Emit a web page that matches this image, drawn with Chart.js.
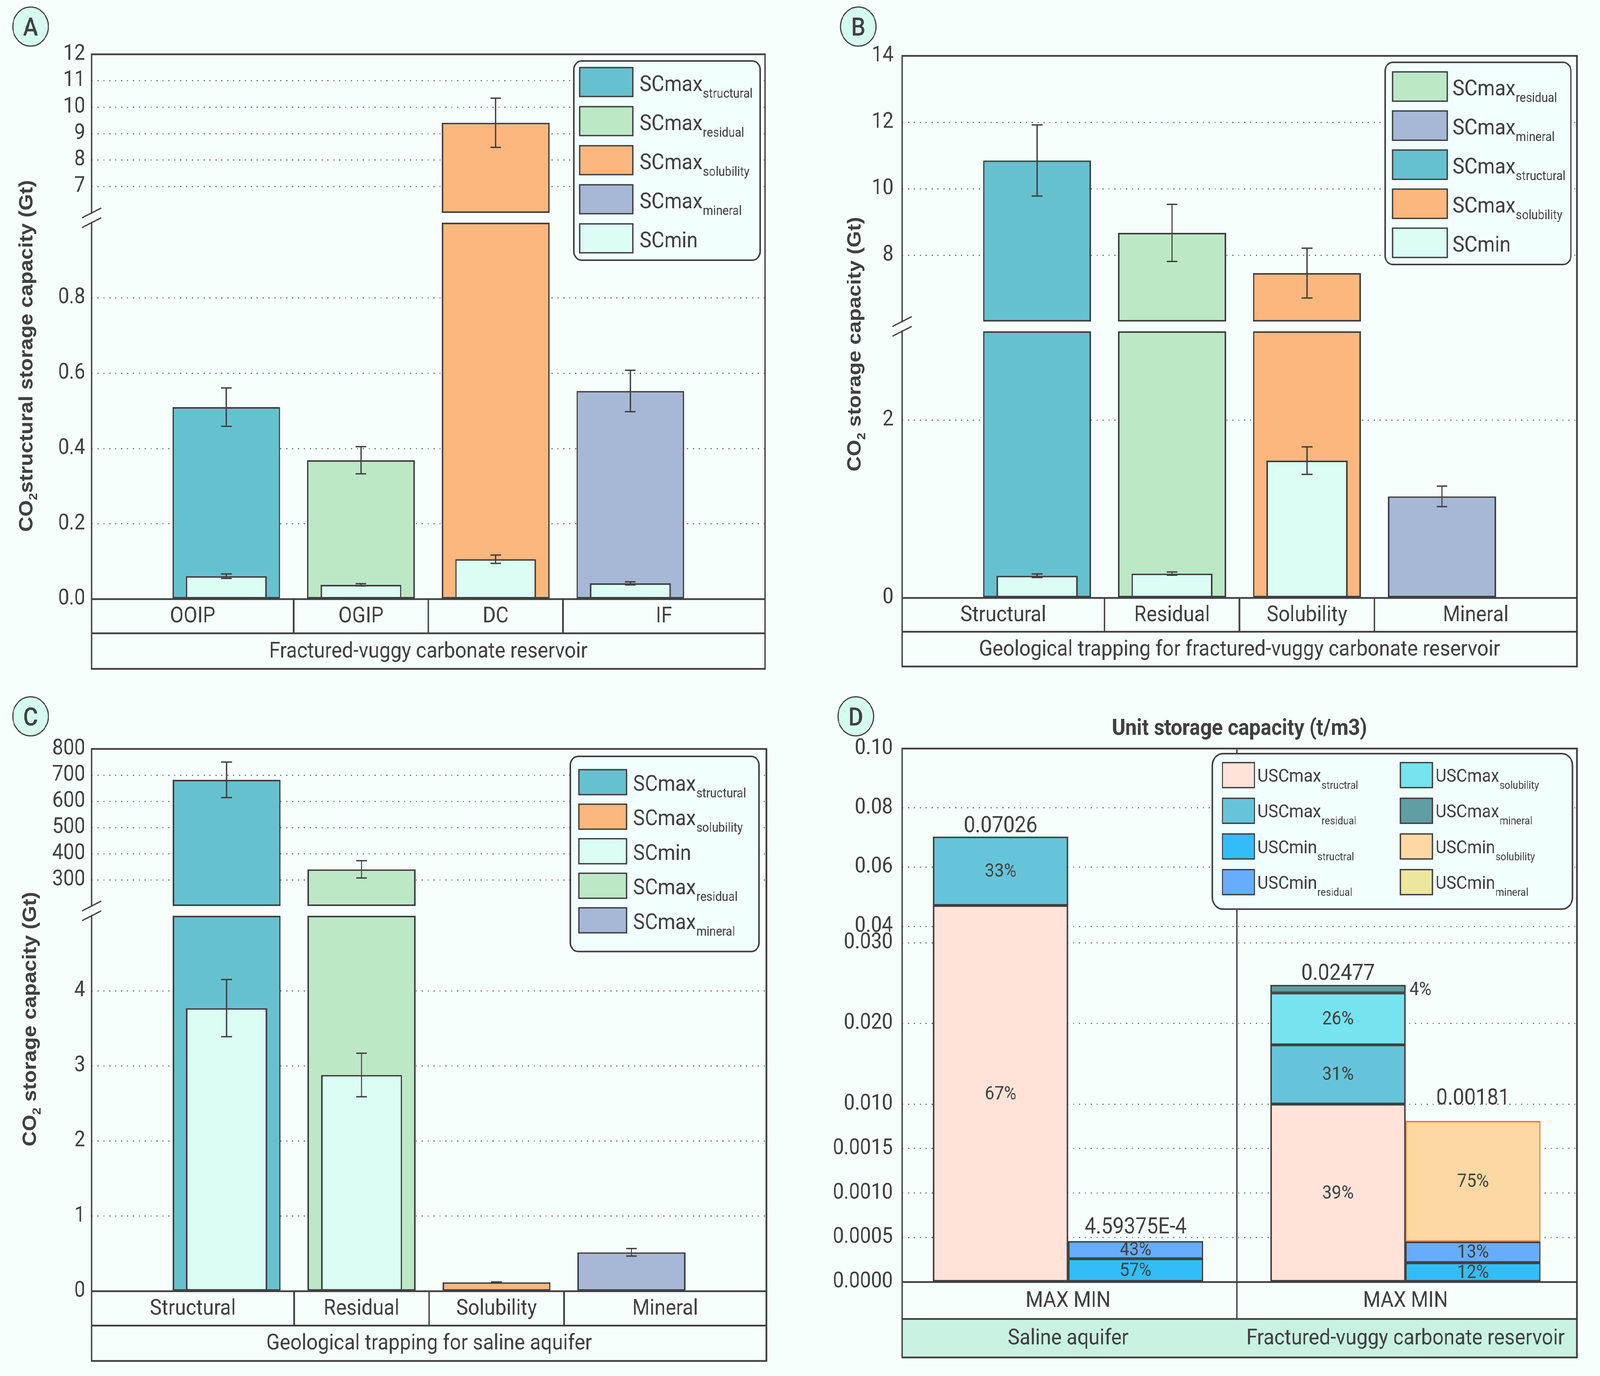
<!DOCTYPE html>
<html>
<head>
<meta charset="utf-8">
<title>CO2 storage capacity</title>
<script src="https://cdn.jsdelivr.net/npm/chart.js@4.4.1/dist/chart.umd.min.js"></script>
<style>
  html, body { margin:0; padding:0; background:#f6fffc; overflow:hidden; }
  body { position:relative; width:4505px; height:3522px; }
  #wrap { position:absolute; left:0; top:0; width:4505px; height:3522px; transform-origin:0 0; }
  canvas { position:absolute; display:block; }
</style>
</head>
<body>
<div id="wrap">
<canvas id="cA" width="2252" height="1761" style="left:0px;top:0px"></canvas>
<canvas id="cB" width="2253" height="1761" style="left:2252px;top:0px"></canvas>
<canvas id="cC" width="2252" height="1761" style="left:0px;top:1761px"></canvas>
<canvas id="cD" width="2253" height="1761" style="left:2252px;top:1761px"></canvas>
</div>
<script>
// fit the 4505x3522 design to the whole viewport
(function fit() {
  const iw = window.innerWidth || 4505, ih = window.innerHeight || 3522;
  const sx = iw / 4505, sy = ih / 3522;
  document.getElementById('wrap').style.transform = 'scale(' + sx + ',' + sy + ')';
  document.body.style.width = iw + 'px';
  document.body.style.height = ih + 'px';
})();

// ================= DATA =================
// Panel A
const categoriesA = ['OOIP', 'OGIP', 'DC', 'IF'];
const trapTypeA = ['structural', 'residual', 'solubility', 'mineral'];
const scMaxA = [0.51, 0.369, 9.41, 0.553];
const scMaxErrA = [0.051, 0.036, 0.93, 0.055];
const scMinA = [0.061, 0.038, 0.106, 0.042];
const scMinErrA = [0.006, 0.003, 0.011, 0.004];
const groupLabelA = 'Fractured-vuggy carbonate reservoir';
const ticksAUpper = [7, 8, 9, 10, 11, 12];
const tickLabelsAUpper = ['7', '8', '9', '10', '11', '12'];
const ticksALower = [0, 0.2, 0.4, 0.6, 0.8];
const tickLabelsALower = ['0.0', '0.2', '0.4', '0.6', '0.8'];

// Panel B
const categoriesB = ['Structural', 'Residual', 'Solubility', 'Mineral'];
const trapTypeB = ['structural', 'residual', 'solubility', 'mineral'];
const scMaxB = [10.85, 8.67, 7.46, 1.143];
const scMaxErrB = [1.07, 0.86, 0.75, 0.115];
const scMinB = [0.25, 0.274, 1.545, null];
const scMinErrB = [0.02, 0.018, 0.155, null];
const groupLabelB = 'Geological trapping for fractured-vuggy carbonate reservoir';
const ticksBUpper = [8, 10, 12, 14];
const tickLabelsBUpper = ['8', '10', '12', '14'];
const ticksBLower = [0, 2];
const tickLabelsBLower = ['0', '2'];

// Panel C
const categoriesC = ['Structural', 'Residual', 'Solubility', 'Mineral'];
const trapTypeC = ['structural', 'residual', 'solubility', 'mineral'];
const scMaxC = [682, 340, 0.118, 0.518];
const scMaxErrC = [68, 33, 0.006, 0.05];
const scMinC = [3.77, 2.88, 0.006, null];
const scMinErrC = [0.38, 0.29, null, null];
const groupLabelC = 'Geological trapping for saline aquifer';
const ticksCUpper = [300, 400, 500, 600, 700, 800];
const tickLabelsCUpper = ['300', '400', '500', '600', '700', '800'];
const ticksCLower = [0, 1, 2, 3, 4];
const tickLabelsCLower = ['0', '1', '2', '3', '4'];

// Panel D  (bars: Saline MAX, Saline MIN, Fractured MAX, Fractured MIN)
const groupsD = ['Saline aquifer', 'Fractured-vuggy carbonate reservoir'];
const groupTickLabelD = ['MAX MIN', 'MAX MIN'];
const barKindD = ['max', 'min', 'max', 'min'];
const totalsD = [0.07026, 0.000459375, 0.02477, 0.00181];
const totalLabelsD = ['0.07026', '4.59375E-4', '0.02477', '0.00181'];
const shareStructuralD = [67, 57, 39, 12];
const shareResidualD = [33, 43, 31, 13];
const shareSolubilityD = [0, 0, 26, 75];
const shareMineralD = [0, 0, 4, 0];
const ticksDTop = [0.04, 0.06, 0.08, 0.10];
const tickLabelsDTop = ['0.04', '0.06', '0.08', '0.10'];
const ticksDMid = [0.010, 0.020, 0.030];
const tickLabelsDMid = ['0.010', '0.020', '0.030'];
const ticksDLow = [0, 0.0005, 0.0010, 0.0015];
const tickLabelsDLow = ['0.0000', '0.0005', '0.0010', '0.0015'];

// ================= STYLE =================
const INK = '#404040';
const GRID = '#6a6a6a';
const RF = 'Roboto, "Noto Sans", "DejaVu Sans", sans-serif';
const TF = '"Liberation Sans", Arial, sans-serif';
const TYPE_COLOR = { structural:'#66c1cf', residual:'#bde8c6', solubility:'#fbb77d', mineral:'#a6b8d6', min:'#dcfdf3' };
const LW = 4;
const FRAME = 4.5;
const slot4 = [0, 1, 2, 3];
const slotD = [0, 1, 2.5, 3.5];
const totalLiftD = [12, 20, 13, 42];

function font(px, w) { return (w ? w + ' ' : '') + px + 'px ' + RF; }

// ================= HELPERS =================
function buildScales(P) {
  const scales = {
    x: { type:'linear', display:false, min:P.xMin, max:P.xMax, offset:false, grid:{display:false},
         afterBuildTicks: s => { s.ticks = P.slots.map(v => ({value:v})); } }
  };
  for (let i = P.segs.length - 1; i >= 0; i--) {
    const s = P.segs[i];
    scales[s.id] = {
      type:'linear', position:'left', stack:'ystack', stackWeight: s.bottom - s.top,
      min:s.min, max:s.max, beginAtZero:false, offset:false,
      afterBuildTicks: sc => { sc.ticks = s.ticks.map(v => ({value:v})); },
      afterFit: sc => { sc.width = P.axisW; },
      ticks:{ autoSkip:false, padding:P.tickPad, color:INK, font:{family:RF, size:55}, callback:(v, i) => s.labels[i] },
      grid:{ drawTicks:false, color:GRID, lineWidth:3 },
      border:{ display:false, dash:[3, 13.6] }
    };
    if (i > 0) {
      const gap = s.top - P.segs[i - 1].bottom;
      if (gap > 0.5) {
        scales['gap' + i] = {
          type:'linear', position:'left', stack:'ystack', stackWeight: gap, min:0, max:1, display:true,
          afterBuildTicks: sc => { sc.ticks = []; },
          afterFit: sc => { sc.width = P.axisW; },
          ticks:{ display:false }, grid:{ display:false, drawTicks:false }, border:{ display:false }
        };
      }
    }
  }
  return scales;
}

// split a [lo,hi] piece over the axis segments (segs ordered top -> bottom)
function pieces(lo, hi, segs) {
  const out = [];
  segs.forEach((s, k) => {
    const a = Math.max(lo, s.min), b = Math.min(hi, s.max);
    if (b > a) out.push({ seg:s, k, a, b });
  });
  return out;
}

function barSets(vals, colorOf, pct, P, label) {
  const sets = [];
  P.segs.forEach(s => {
    const pts = [], bg = [];
    vals.forEach((v, i) => {
      if (v == null) return;
      pieces(0, v, [s]).forEach(p => { pts.push({ x:P.slots[i], y:[p.a, p.b] }); bg.push(colorOf(i)); });
    });
    if (pts.length) sets.push({ label, data:pts, yAxisID:s.id, backgroundColor:bg, borderColor:INK,
      borderWidth:LW, borderSkipped:false, grouped:false, barPercentage:pct, categoryPercentage:1 });
  });
  return sets;
}

function valuePx(chart, segs, v) {
  for (const s of segs) if (v >= s.min - 1e-12 && v <= s.max + 1e-12) return chart.scales[s.id].getPixelForValue(v);
  return null;
}

function drawErr(ctx, chart, P, vals, errs) {
  ctx.save();
  ctx.strokeStyle = INK; ctx.lineWidth = 3.5; ctx.lineCap = 'butt';
  vals.forEach((v, i) => {
    if (v == null || errs[i] == null) return;
    const x = chart.scales.x.getPixelForValue(P.slots[i]);
    const y1 = valuePx(chart, P.segs, v + errs[i]), y2 = valuePx(chart, P.segs, v - errs[i]);
    if (y1 == null || y2 == null) return;
    ctx.beginPath();
    ctx.moveTo(x, y1); ctx.lineTo(x, y2);
    ctx.moveTo(x - 15, y1); ctx.lineTo(x + 15, y1);
    ctx.moveTo(x - 15, y2); ctx.lineTo(x + 15, y2);
    ctx.stroke();
  });
  ctx.restore();
}

function roundRectPath(ctx, x, y, w, h, r) {
  ctx.beginPath();
  ctx.moveTo(x + r, y);
  ctx.lineTo(x + w - r, y); ctx.arcTo(x + w, y, x + w, y + r, r);
  ctx.lineTo(x + w, y + h - r); ctx.arcTo(x + w, y + h, x + w - r, y + h, r);
  ctx.lineTo(x + r, y + h); ctx.arcTo(x, y + h, x, y + h - r, r);
  ctx.lineTo(x, y + r); ctx.arcTo(x, y, x + r, y, r);
  ctx.closePath();
}

function drawSubText(ctx, x, y, main, sub, mainPx, subPx, subDy) {
  ctx.textAlign = 'left'; ctx.textBaseline = 'alphabetic';
  ctx.font = font(mainPx);
  ctx.fillText(main, x, y);
  if (sub) {
    const w = ctx.measureText(main).width;
    ctx.font = font(subPx);
    ctx.fillText(sub, x + w + 1, y + subDy);
  }
}

function drawLegend(ctx, L) {
  ctx.save();
  roundRectPath(ctx, L.x, L.y, L.w, L.h, L.r);
  ctx.fillStyle = '#f1fffd'; ctx.fill();
  ctx.lineWidth = 4; ctx.strokeStyle = INK; ctx.stroke();
  L.items.forEach((it, k) => {
    const col = Math.floor(k / L.rows), row = k % L.rows;
    const sx = L.swX[col], sy = L.rowTop + row * L.pitch;
    ctx.fillStyle = it.fill; ctx.fillRect(sx, sy, L.swW, L.swH);
    ctx.lineWidth = 3.5; ctx.strokeStyle = INK; ctx.strokeRect(sx, sy, L.swW, L.swH);
    ctx.fillStyle = INK;
    drawSubText(ctx, L.txX[col], sy + L.baseDy, it.main, it.sub, L.mainPx, L.subPx, L.subDy);
  });
  ctx.restore();
}

function drawYTitle(ctx, baseX, cy, parts, px) {
  ctx.save();
  ctx.translate(baseX, cy); ctx.rotate(-Math.PI / 2);
  ctx.fillStyle = INK; ctx.textBaseline = 'alphabetic'; ctx.textAlign = 'left';
  const fMain = 'bold ' + px + 'px ' + TF, fSub = 'bold ' + Math.round(px * 0.62) + 'px ' + TF;
  let total = 0;
  const ws = parts.map(p => { ctx.font = p.sub ? fSub : fMain; const w = ctx.measureText(p.t).width; total += w; return w; });
  let x = -total / 2;
  parts.forEach((p, i) => { ctx.font = p.sub ? fSub : fMain; ctx.fillText(p.t, x, p.sub ? px * 0.24 : 0); x += ws[i]; });
  ctx.restore();
}

function drawBadge(ctx, cx, cy, letter) {
  ctx.save();
  ctx.beginPath(); ctx.arc(cx, cy, 50, 0, 2 * Math.PI);
  ctx.fillStyle = '#d5fbef'; ctx.fill();
  ctx.lineWidth = 3; ctx.strokeStyle = INK; ctx.stroke();
  ctx.fillStyle = INK; ctx.font = font(64, 500); ctx.textAlign = 'center'; ctx.textBaseline = 'alphabetic';
  ctx.fillText(letter, cx, cy + 23);
  ctx.restore();
}

function legendItems(keys) {
  return keys.map(k => k === 'min' ? { fill:TYPE_COLOR.min, main:'SCmin', sub:'' } : { fill:TYPE_COLOR[k], main:'SCmax', sub:k });
}

// ================= PANELS A/B/C =================
function decorateABC(chart, P) {
  const ctx = chart.ctx, ca = chart.chartArea, xs = chart.scales.x;
  const L = ca.left, R = ca.right, T = ca.top, B = ca.bottom;
  const r1 = B + P.row1H, r2 = r1 + P.row2H;

  drawErr(ctx, chart, P, P.maxVals, P.maxErrs);
  drawErr(ctx, chart, P, P.minVals, P.minErrs);

  const gaps = [];
  for (let i = 1; i < P.segs.length; i++) {
    const up = chart.scales[P.segs[i - 1].id], lo = chart.scales[P.segs[i].id];
    if (lo.top - up.bottom > 0.5) gaps.push({ top: up.bottom, bottom: lo.top });
  }

  ctx.save();
  ctx.strokeStyle = INK; ctx.lineWidth = FRAME; ctx.lineJoin = 'miter'; ctx.lineCap = 'square';
  ctx.beginPath();
  ctx.moveTo(L, T); ctx.lineTo(R, T); ctx.lineTo(R, r2); ctx.lineTo(L, r2);
  let y = T;
  gaps.forEach(g => { ctx.moveTo(L, y); ctx.lineTo(L, g.top); y = g.bottom; });
  ctx.moveTo(L, y); ctx.lineTo(L, r2);
  ctx.moveTo(L, B); ctx.lineTo(R, B);
  ctx.moveTo(L, r1); ctx.lineTo(R, r1);
  const cells = [L];
  for (let i = 0; i < P.slots.length - 1; i++) {
    const xd = xs.getPixelForValue((P.slots[i] + P.slots[i + 1]) / 2);
    cells.push(xd);
    ctx.moveTo(xd, B); ctx.lineTo(xd, r1);
  }
  cells.push(R);
  ctx.stroke();

  ctx.lineWidth = 3.5; ctx.lineCap = 'butt';
  gaps.forEach(g => {
    [g.top, g.bottom].forEach(yy => {
      ctx.beginPath(); ctx.moveTo(L - 27, yy + 12.5); ctx.lineTo(L + 27, yy - 12.5); ctx.stroke();
    });
  });

  ctx.fillStyle = INK; ctx.font = font(56); ctx.textAlign = 'center'; ctx.textBaseline = 'middle';
  P.categories.forEach((c, i) => ctx.fillText(c, (cells[i] + cells[i + 1]) / 2, (B + r1) / 2 + 2));
  ctx.fillText(P.group, (L + R) / 2, (r1 + r2) / 2 + 2);
  ctx.restore();

  drawLegend(ctx, P.legend);
  drawYTitle(ctx, P.title.x, P.title.y, P.title.parts, 54);
  drawBadge(ctx, P.badge[0], P.badge[1], P.badge[2]);
}

function makeABC(P) {
  const minSets = barSets(P.minVals, () => TYPE_COLOR.min, 0.6, P, 'SCmin');
  const maxSets = barSets(P.maxVals, i => TYPE_COLOR[P.types[i]], 0.8, P, 'SCmax');
  return new Chart(document.getElementById(P.canvas), {
    type:'bar',
    data:{ datasets:[...minSets, ...maxSets] },
    options:{
      responsive:false, animation:false, devicePixelRatio:1, events:[],
      layout:{ padding:{ left:0, right:P.padRight, top:P.padTop, bottom:P.padBottom } },
      scales: buildScales(P),
      plugins:{ legend:{display:false}, tooltip:{enabled:false}, title:{display:false} }
    },
    plugins:[{ id:'deco', afterDatasetsDraw: chart => decorateABC(chart, P) }]
  });
}

makeABC({
  canvas:'cA', axisW:258, tickPad:18, padRight:98, padTop:139, padBottom:227.5,
  xMin:-1, xMax:4, slots:slot4, row1H:87.5, row2H:91,
  segs:[
    { id:'yUp', min:6, max:12, top:139, bottom:545, ticks:ticksAUpper, labels:tickLabelsAUpper },
    { id:'yLo', min:0, max:1, top:570, bottom:1533.5, ticks:ticksALower, labels:tickLabelsALower }
  ],
  categories:categoriesA, group:groupLabelA, types:trapTypeA,
  maxVals:scMaxA, maxErrs:scMaxErrA, minVals:scMinA, minErrs:scMinErrA,
  legend:{ x:1616, y:156, w:524, h:510, r:22, rows:5, swX:[1632], swW:150, swH:74, rowTop:173, pitch:100,
           txX:[1801], mainPx:56, subPx:33, baseDy:60, subDy:17,
           items:legendItems(['structural', 'residual', 'solubility', 'mineral', 'min']) },
  title:{ x:91, y:911, parts:[{t:'CO'}, {t:'2', sub:true}, {t:'structural storage capacity (Gt)'}] },
  badge:[86, 68, 'A']
});

makeABC({
  canvas:'cB', axisW:288, tickPad:24, padRight:65, padTop:143, padBottom:230.5,
  xMin:-1, xMax:4, slots:slot4, row1H:86.5, row2H:89,
  segs:[
    { id:'yUp', min:6, max:14, top:143, bottom:823, ticks:ticksBUpper, labels:tickLabelsBUpper },
    { id:'yLo', min:0, max:3, top:848, bottom:1530.5, ticks:ticksBLower, labels:tickLabelsBLower }
  ],
  categories:categoriesB, group:groupLabelB, types:trapTypeB,
  maxVals:scMaxB, maxErrs:scMaxErrB, minVals:scMinB, minErrs:scMinErrB,
  legend:{ x:1648, y:159.5, w:523, h:517.5, r:22, rows:5, swX:[1669], swW:154, swH:75, rowTop:184, pitch:100,
           txX:[1838], mainPx:56, subPx:33, baseDy:60, subDy:17,
           items:legendItems(['residual', 'mineral', 'structural', 'solubility', 'min']) },
  title:{ x:171, y:881, parts:[{t:'CO'}, {t:'2', sub:true}, {t:' storage capacity (Gt)'}] },
  badge:[164.7, 68, 'B']
});

makeABC({
  canvas:'cC', axisW:258, tickPad:18, padRight:94, padTop:156, padBottom:217,
  xMin:-1, xMax:4, slots:slot4, row1H:88, row2H:90.5,
  segs:[
    { id:'yUp', min:200, max:800, top:156, bottom:558, ticks:ticksCUpper, labels:tickLabelsCUpper },
    { id:'yLo', min:0, max:5, top:583, bottom:1544, ticks:ticksCLower, labels:tickLabelsCLower }
  ],
  categories:categoriesC, group:groupLabelC, types:trapTypeC,
  maxVals:scMaxC, maxErrs:scMaxErrC, minVals:scMinC, minErrs:scMinErrC,
  legend:{ x:1606, y:175, w:531, h:499.5, r:22, rows:5, swX:[1630], swW:134, swH:64, rowTop:209, pitch:88.4,
           txX:[1782.5], mainPx:56, subPx:33, baseDy:54, subDy:17,
           items:legendItems(['structural', 'solubility', 'min', 'residual', 'mineral']) },
  title:{ x:101, y:847.5, parts:[{t:'CO'}, {t:'2', sub:true}, {t:' storage capacity (Gt)'}] },
  badge:[86, 72.5, 'C']
});

// ================= PANEL D =================
const compKeysD = ['structral', 'residual', 'solubility', 'mineral'];
const sharesD = [shareStructuralD, shareResidualD, shareSolubilityD, shareMineralD];
const colorD = { max:['#ffe3d8', '#66c4da', '#77e3ee', '#5f9ea1'], min:['#33bdf7', '#66adfe', '#fcd9a2', '#ede79e'] };
const edgeD = { max:[INK, INK, INK, INK], min:[INK, INK, '#ef7f45', INK] };

function pieceRange(i, c) {
  let before = 0;
  for (let j = 0; j < c; j++) before += sharesD[j][i];
  return [totalsD[i] * before / 100, totalsD[i] * (before + sharesD[c][i]) / 100];
}

function dSets(P) {
  const sets = [];
  ['max', 'min'].forEach(kind => {
    compKeysD.forEach((ck, c) => {
      P.segs.forEach((s, k) => {
        const pts = [], bw = [];
        totalsD.forEach((tot, i) => {
          if (barKindD[i] !== kind || !sharesD[c][i]) return;
          const [lo, hi] = pieceRange(i, c);
          const all = pieces(lo, hi, P.segs);
          all.filter(p => p.k === k).forEach(p => {
            const hasAbove = all.some(q => q.k === k - 1);
            const hasBelow = all.some(q => q.k === k + 1);
            pts.push({ x:slotD[i], y:[p.a, p.b] });
            bw.push({ top:hasAbove ? 0 : LW, bottom:hasBelow ? 0 : LW, left:LW, right:LW });
          });
        });
        if (pts.length) sets.push({ label:'USC' + kind + ' ' + ck, data:pts, yAxisID:s.id,
          backgroundColor:colorD[kind][c], borderColor:edgeD[kind][c], borderWidth:bw,
          borderSkipped:false, grouped:false, barPercentage:1, categoryPercentage:1 });
      });
    });
  });
  return sets;
}

function pieceExtent(chart, segs, lo, hi) {
  let top = Infinity, bot = -Infinity;
  pieces(lo, hi, segs).forEach(p => {
    const sc = chart.scales[p.seg.id];
    top = Math.min(top, sc.getPixelForValue(p.b));
    bot = Math.max(bot, sc.getPixelForValue(p.a));
  });
  return { top, bot };
}

function decorateD(chart, P) {
  const ctx = chart.ctx, ca = chart.chartArea, xs = chart.scales.x;
  const L = ca.left, R = ca.right, T = ca.top, B = ca.bottom;
  const r1 = B + P.row1H, r2 = r1 + P.row2H;
  const div = xs.getPixelForValue((slotD[1] + slotD[2]) / 2);
  const gc = [xs.getPixelForValue((slotD[0] + slotD[1]) / 2), xs.getPixelForValue((slotD[2] + slotD[3]) / 2)];

  ctx.save();
  ctx.fillStyle = '#c9f2e3';
  ctx.fillRect(L, r1, R - L, r2 - r1);
  ctx.strokeStyle = INK; ctx.lineWidth = FRAME; ctx.lineJoin = 'miter'; ctx.lineCap = 'square';
  ctx.beginPath();
  ctx.moveTo(L, T); ctx.lineTo(R, T); ctx.lineTo(R, r2); ctx.lineTo(L, r2); ctx.closePath();
  ctx.moveTo(L, B); ctx.lineTo(R, B);
  ctx.moveTo(L, r1); ctx.lineTo(R, r1);
  ctx.stroke();
  ctx.lineWidth = 3.5;
  ctx.beginPath(); ctx.moveTo(div, T); ctx.lineTo(div, r1); ctx.stroke();

  // value labels
  ctx.fillStyle = INK;
  totalsD.forEach((tot, i) => {
    const xc = xs.getPixelForValue(slotD[i]);
    const xr = xs.getPixelForValue(slotD[i] + 0.5);
    sharesD.forEach((arr, c) => {
      if (!arr[i]) return;
      const [lo, hi] = pieceRange(i, c);
      const e = pieceExtent(chart, P.segs, lo, hi);
      ctx.font = font(48); ctx.textBaseline = 'middle';
      if (e.bot - e.top >= 40) { ctx.textAlign = 'center'; ctx.fillText(arr[i] + '%', xc, (e.top + e.bot) / 2 + 2); }
      else { ctx.textAlign = 'left'; ctx.fillText(arr[i] + '%', xr + 11, (e.top + e.bot) / 2 + 4); }
    });
    const et = pieceExtent(chart, P.segs, 0, tot);
    ctx.font = font(57); ctx.textAlign = 'center'; ctx.textBaseline = 'alphabetic';
    ctx.fillText(totalLabelsD[i], xc, et.top - totalLiftD[i]);
  });

  ctx.font = font(56); ctx.textAlign = 'center'; ctx.textBaseline = 'middle';
  groupTickLabelD.forEach((t, g) => ctx.fillText(t, gc[g], (B + r1) / 2 + 2));
  groupsD.forEach((t, g) => ctx.fillText(t, gc[g], (r1 + r2) / 2 + 2));

  ctx.font = font(57, 'bold'); ctx.textBaseline = 'alphabetic';
  ctx.fillText('Unit storage capacity (t/m3)', (L + R) / 2, 120);
  ctx.restore();

  drawLegend(ctx, P.legend);
  drawBadge(ctx, P.badge[0], P.badge[1], P.badge[2]);
}

(function makeD() {
  const P = {
    canvas:'cD', axisW:288, tickPad:26, padRight:65, padTop:155, padBottom:240.5,
    xMin:-0.73, xMax:4.27, slots:slotD, row1H:94.5, row2H:98.5,
    segs:[
      { id:'yTop', min:0.0345, max:0.10, top:155, bottom:652, ticks:ticksDTop, labels:tickLabelsDTop },
      { id:'yMid', min:0.010, max:0.030, top:652, bottom:1065, ticks:ticksDMid, labels:tickLabelsDMid },
      { id:'yLow', min:0, max:0.002, top:1065, bottom:1520.5, ticks:ticksDLow, labels:tickLabelsDLow }
    ],
    legend:{ x:1161.5, y:168, w:1014, h:398, r:30, rows:4, swX:[1190, 1691], swW:90, swH:64, rowTop:191, pitch:91.3,
             txX:[1288.6, 1790], mainPx:47, subPx:28, baseDy:49, subDy:18,
             items:[
               { fill:colorD.max[0], main:'USCmax', sub:'structral' },
               { fill:colorD.max[1], main:'USCmax', sub:'residual' },
               { fill:colorD.min[0], main:'USCmin', sub:'structral' },
               { fill:colorD.min[1], main:'USCmin', sub:'residual' },
               { fill:colorD.max[2], main:'USCmax', sub:'solubility' },
               { fill:colorD.max[3], main:'USCmax', sub:'mineral' },
               { fill:colorD.min[2], main:'USCmin', sub:'solubility' },
               { fill:colorD.min[3], main:'USCmin', sub:'mineral' }
             ] },
    badge:[157.5, 72.5, 'D']
  };
  new Chart(document.getElementById(P.canvas), {
    type:'bar',
    data:{ datasets:dSets(P) },
    options:{
      responsive:false, animation:false, devicePixelRatio:1, events:[],
      layout:{ padding:{ left:0, right:P.padRight, top:P.padTop, bottom:P.padBottom } },
      scales: buildScales(P),
      plugins:{ legend:{display:false}, tooltip:{enabled:false}, title:{display:false} }
    },
    plugins:[{ id:'decoD', afterDatasetsDraw: chart => decorateD(chart, P) }]
  });
})();
</script>
</body>
</html>
